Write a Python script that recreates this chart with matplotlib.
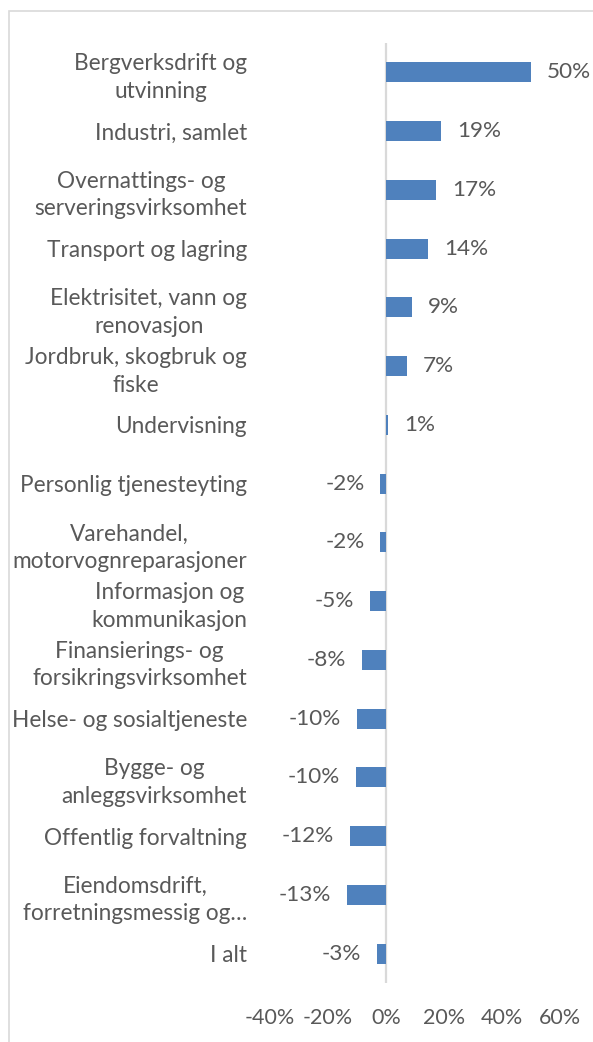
import matplotlib
matplotlib.use("Agg")
import matplotlib.pyplot as plt
from matplotlib.patches import Rectangle

# Data (top to bottom)
categories = [
    "Bergverksdrift og\nutvinning",
    "Industri, samlet",
    "Overnattings- og\nserveringsvirksomhet",
    "Transport og lagring",
    "Elektrisitet, vann og\nrenovasjon",
    "Jordbruk, skogbruk og\nfiske",
    "Undervisning",
    "Personlig tjenesteyting",
    "Varehandel,\nmotorvognreparasjoner",
    "Informasjon og\nkommunikasjon",
    "Finansierings- og\nforsikringsvirksomhet",
    "Helse- og sosialtjeneste",
    "Bygge- og\nanleggsvirksomhet",
    "Offentlig forvaltning",
    "Eiendomsdrift,\nforretningsmessig og\u2026",
    "I alt",
]
values = [50.0, 19.0, 17.2, 14.4, 9.0, 7.2, 0.8, -1.9, -1.9, -5.4, -8.4, -10.1, -10.3, -12.3, -13.4, -3.1]
xticks = [-40, -20, 0, 20, 40, 60]

text_color = '#595959'
bar_color = '#4F81BD'
grid_color = '#D9D9D9'

plt.rcParams['font.family'] = ['Lato', 'DejaVu Sans']

W, H = 593, 1042
fig = plt.figure(figsize=(W / 100, H / 100), dpi=100)
ax = fig.add_axes([270 / W, 1 - 983 / H, 290 / W, 940 / H])

# chart frame
fig.patches.append(Rectangle((9 / W, -0.5), 2.0, 0.5 + 1 - 11 / H, transform=fig.transFigure,
                             fill=False, edgecolor=grid_color, linewidth=1.2))

ypos = list(range(len(categories)))
ax.barh(ypos, values, height=0.34, color=bar_color, zorder=2)
ax.axvline(0, color=grid_color, lw=1.6, zorder=1)

for y, v in zip(ypos, values):
    off = 11.5 if v >= 0 else -11.5
    ax.annotate(f"{v:.0f}%", xy=(v, y), xytext=(off, 0), textcoords='offset points',
                ha='left' if v >= 0 else 'right', va='center', fontsize=16.2, color=text_color)

ax.set_xlim(-40, 60)
ax.set_ylim(len(categories) - 0.5, -0.5)
ax.set_xticks(xticks)
ax.set_xticklabels([f"{t}%" for t in xticks])
ax.set_yticks(ypos)
ax.set_yticklabels(categories)
for lab in ax.get_yticklabels():
    lab.set_multialignment('center')
    lab.set_linespacing(1.38)
    lab.set_fontsize(16.3)

ax.tick_params(axis='both', length=0, labelcolor=text_color)
ax.tick_params(axis='x', labelsize=15.5, pad=18)
ax.tick_params(axis='y', pad=16.5)
for lab in ax.get_yticklabels():
    lab.set_fontsize(16.3)
for s in ax.spines.values():
    s.set_visible(False)
ax.set_facecolor('none')

fig.savefig('out.png', dpi=100, facecolor='white')
